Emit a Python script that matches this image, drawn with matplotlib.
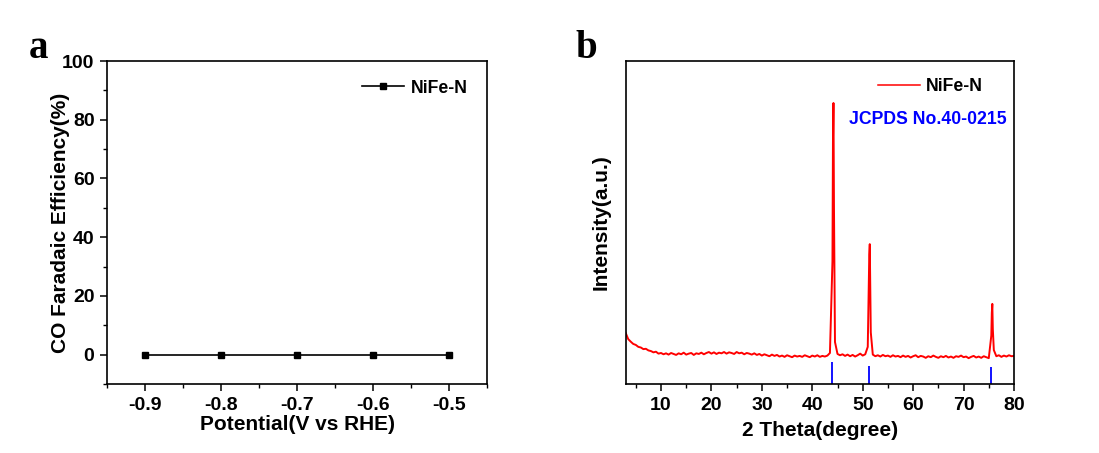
import numpy as np
import matplotlib
matplotlib.use("Agg")
import matplotlib.pyplot as plt

plt.rcParams['font.family'] = ['Liberation Sans', 'DejaVu Sans']
plt.rcParams['font.weight'] = 'bold'

# panel a data
potential = [-0.9, -0.8, -0.7, -0.6, -0.5]
co_fe = [0, 0, 0, 0, 0]

# panel b data (XRD, arbitrary units)
xrd_x = list(np.arange(3.0, 80.01, 0.5))
xrd_y = [15.8, 13.9, 13.1, 12.4, 12.1, 11.5, 11.3, 10.8, 10.9, 10.4,
         10.2, 9.8, 10.0, 9.4, 9.6, 9.2, 9.5, 9.1, 9.6, 9.3,
         9.0, 9.5, 9.2, 9.7, 9.1, 9.4, 9.6, 9.0, 9.5, 9.3,
         9.7, 9.2, 9.6, 9.9, 9.4, 9.8, 9.3, 9.7, 9.5, 9.9,
         9.4, 9.8, 9.6, 9.3, 9.9, 9.5, 9.7, 9.2, 9.6, 9.4,
         9.1, 9.5, 9.0, 9.3, 8.8, 9.2, 8.9, 8.6, 9.1, 8.7,
         9.0, 8.5, 8.8, 8.4, 8.9, 8.6, 8.3, 8.8, 8.5, 8.7,
         8.4, 8.9, 8.6, 8.3, 8.8, 8.5, 8.9, 8.4, 8.7, 8.5,
         8.8, 9.6, 38.0, 13.0, 9.3, 8.9, 9.2, 8.7, 9.1, 8.6,
         9.0, 8.5, 8.9, 9.4, 8.8, 9.2, 11.5, 30.0, 9.1, 8.6,
         8.9, 8.5, 9.0, 8.6, 8.8, 8.4, 8.9, 8.5, 8.7, 8.3,
         8.8, 8.4, 8.7, 8.2, 8.6, 8.9, 8.3, 8.7, 8.5, 8.1,
         8.6, 8.3, 8.8, 8.4, 8.1, 8.6, 8.3, 8.7, 8.2, 8.5,
         8.1, 8.6, 8.4, 8.8, 8.3, 8.5, 8.0, 8.4, 8.7, 8.2,
         8.5, 8.1, 8.6, 8.3, 8.0, 15.0, 10.5, 8.6, 8.9, 8.4,
         8.8, 8.5, 8.9, 8.6, 8.7]
peak_x = [44.1, 44.2, 44.3, 51.3, 51.4, 51.6, 75.6, 75.7, 75.8]
peak_y = [75.0, 87.0, 55.0, 40.0, 43.3, 16.0, 22.0, 24.8, 17.0]

# reference lines JCPDS 40-0215
ref_pos = [44.0, 51.2, 75.5]
ref_top = [6.8, 5.6, 5.3]

W, H = 1099, 453
fig = plt.figure(figsize=(W / 100, H / 100), dpi=100)

tick_fs = 14
leg_fs = 12.7
label_fs = 15

# ---- panel a ----
ax1 = fig.add_axes([107 / W, 69 / H, 380 / W, 323 / H])
ax1.plot(potential, co_fe, color='black', marker='s', ms=5, lw=1.2, label='NiFe-N')
ax1.set_xlim(-0.95, -0.45)
ax1.set_ylim(-10, 100)
ax1.set_xticks(potential)
ax1.set_xticks([-0.95, -0.85, -0.75, -0.65, -0.55, -0.45], minor=True)
ax1.set_yticks([0, 20, 40, 60, 80, 100])
ax1.set_yticks([-10, 10, 30, 50, 70, 90], minor=True)
ax1.set_xticklabels(['-0.9', '-0.8', '-0.7', '-0.6', '-0.5'])
ax1.set_xlabel('Potential(V vs RHE)', fontsize=label_fs, fontweight='bold')
ax1.set_ylabel('CO Faradaic Efficiency(%)', fontsize=label_fs, fontweight='bold')
ax1.xaxis.set_label_coords(0.5, -0.097)
ax1.yaxis.set_label_coords(-0.097, 0.5)
ax1.legend(loc='center right', bbox_to_anchor=(0.95, 0.916), frameon=False,
           fontsize=leg_fs, handlelength=2.4, handletextpad=0.4,
           borderpad=0, borderaxespad=0)

# ---- panel b ----
ax2 = fig.add_axes([625.7 / W, 69 / H, 388.3 / W, 323 / H])
xs = np.array(xrd_x + peak_x)
ys = np.array(xrd_y + peak_y)
order = np.argsort(xs)
ax2.plot(xs[order], ys[order], color='#ff0000', lw=1.4, label='NiFe-N')
ax2.vlines(ref_pos, 0, ref_top, color='#0000ff', lw=1.3)
ax2.set_xlim(3, 80)
ax2.set_ylim(0, 100)
ax2.set_xticks([10, 20, 30, 40, 50, 60, 70, 80])
ax2.set_xticks([5, 15, 25, 35, 45, 55, 65, 75], minor=True)
ax2.set_yticks([])
ax2.set_xlabel('2 Theta(degree)', fontsize=label_fs, fontweight='bold')
ax2.set_ylabel('Intensity(a.u.)', fontsize=label_fs, fontweight='bold')
ax2.xaxis.set_label_coords(0.5, -0.115)
ax2.yaxis.set_label_coords(-0.038, 0.5)
leg = ax2.legend(loc='center right', bbox_to_anchor=(0.919, 0.92), frameon=False,
                 fontsize=leg_fs, handlelength=2.4, handletextpad=0.3,
                 borderpad=0, borderaxespad=0)
leg.get_lines()[0].set_linewidth(1.1)
ax2.text(0.982, 0.82, 'JCPDS No.40-0215', transform=ax2.transAxes, color='#0000ff',
         fontsize=leg_fs, fontweight='bold', ha='right', va='center')

for ax in (ax1, ax2):
    for s in ax.spines.values():
        s.set_linewidth(1.2)
    ax.tick_params(which='major', direction='out', length=5, width=1.1,
                   labelsize=tick_fs, pad=4)
    ax.tick_params(which='minor', direction='out', length=3, width=1.0)
    for lab in ax.get_xticklabels() + ax.get_yticklabels():
        lab.set_fontweight('bold')

fig.text(29 / W, 1 - 58 / H, 'a', fontsize=28, fontweight='bold',
         family='Liberation Serif', va='baseline', ha='left')
fig.text(575 / W, 1 - 58 / H, 'b', fontsize=28, fontweight='bold',
         family='Liberation Serif', va='baseline', ha='left')

fig.savefig('out.png', dpi=100)
